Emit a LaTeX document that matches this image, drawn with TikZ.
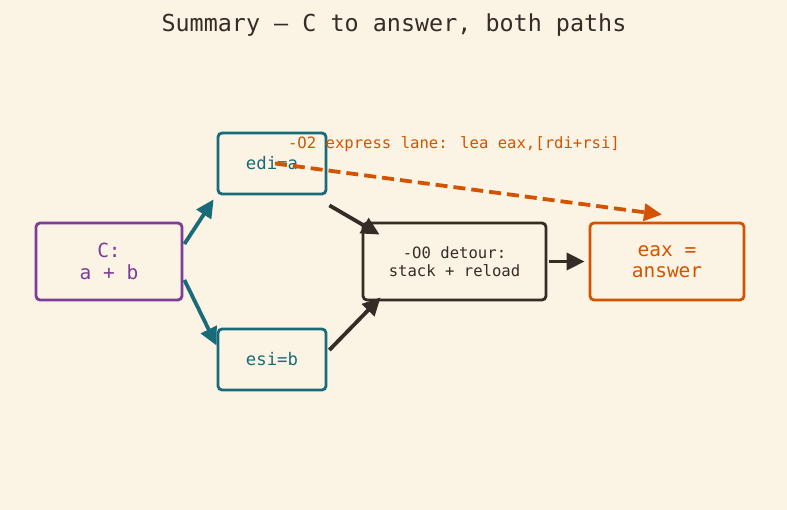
\documentclass[tikz,border=0pt]{standalone}
\usepackage{fontspec}
\newfontfamily\mono{DejaVu Sans Mono}
\usetikzlibrary{arrows.meta,calc}
\definecolor{bg}{HTML}{FBF3E4}
\definecolor{teal}{HTML}{1A6B7A}
\definecolor{purp}{HTML}{7D3C98}
\definecolor{orng}{HTML}{D35400}
\definecolor{dark}{HTML}{362C26}
\begin{document}
\begin{tikzpicture}[x=1pt,y=-1pt,
  box/.style={draw, line width=2.8pt, rounded corners=4pt, fill=bg, inner sep=0pt, align=center, font=\mono},
  arr/.style={line width=3.8pt, -{Triangle[length=18pt,width=17pt]}},
]
\useasboundingbox (0,0) rectangle (787,510);
\fill[bg] (0,0) rectangle (787,510);
\node (title) at (394,25.5) {\mono\fontsize{23.4}{26}\selectfont\color{dark}Summary — C to answer, both paths};

\node[box, draw=purp, text=purp, minimum width=146pt, minimum height=77pt, font=\mono\fontsize{19.5}{22}\selectfont] (c) at (109,261.5) {C:\\a + b};
\node[box, draw=teal, text=teal, minimum width=108pt, minimum height=61pt, font=\mono\fontsize{17.3}{20}\selectfont] (edi) at (272,163.5) {edi=a};
\node[box, draw=teal, text=teal, minimum width=108pt, minimum height=61pt, font=\mono\fontsize{17.3}{20}\selectfont] (esi) at (272,359.5) {esi=b};
\node[box, draw=dark, text=dark, minimum width=183pt, minimum height=77pt, font=\mono\fontsize{15.6}{18}\selectfont] (det) at (454.5,261.5) {-O0 detour:\\stack + reload};
\node[box, draw=orng, text=orng, minimum width=154pt, minimum height=77pt, font=\mono\fontsize{19.5}{21.5}\selectfont] (eax) at (667,261.5) {eax =\\answer};

\draw[arr, teal] ($(c.east)+(1,-17.5)$) -- ($(edi.south west)+(-3,4)$);
\draw[arr, teal] ($(c.east)+(1,18.5)$) -- ($(esi.north west)+(0,18)$);
\draw[arr, dark] ($(edi.south east)+(2,10)$) -- ($(det.north west)+(18,13)$);
\draw[arr, dark] ($(esi.east)+(2,-9.5)$) -- ($(det.south west)+(19,-4)$);
\draw[arr, dark] ($(det.east)+(2,0)$) -- ($(eax.west)+(-4,0)$);
\draw[arr, orng, dash pattern=on 12pt off 6pt] ($(edi.center)+(3,0)$) -- ($(eax.north)+(-5,-7)$);

\node[text=orng, font=\mono\fontsize{15.6}{18}\selectfont] (lbl) at (454,144) {-O2 express lane: lea eax,[rdi+rsi]};
\end{tikzpicture}
\end{document}
